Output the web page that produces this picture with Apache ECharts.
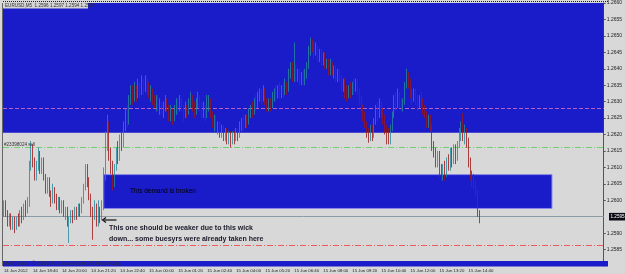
<!DOCTYPE html>
<html><head><meta charset="utf-8">
<script src="https://cdn.jsdelivr.net/npm/echarts@6/dist/echarts.min.js"></script>
<style>html,body{margin:0;padding:0;background:#d8d8d8}#c{width:625px;height:274px}</style>
</head><body><div id="c"></div>
<script>
// OHLC rows: [open, close, low, high], EURUSD M5 from 14 Jun 17:20
const candles = [
[1.2597,1.2599,1.2595,1.2600],[1.2599,1.2596,1.2595,1.2600],[1.2596,1.2594,1.2592,1.2597],[1.2594,1.2595,1.2592,1.2596],
[1.2595,1.2593,1.2591,1.2596],[1.2593,1.2594,1.2591,1.2595],[1.2594,1.2592,1.2590,1.2595],[1.2592,1.2594,1.2591,1.2595],
[1.2594,1.2593,1.2592,1.2596],[1.2593,1.2596,1.2592,1.2597],[1.2596,1.2595,1.2593,1.2598],[1.2595,1.2598,1.2594,1.2599],
[1.2598,1.2597,1.2595,1.2600],[1.2597,1.2599,1.2596,1.2601],[1.2599,1.2610,1.2598,1.2612],[1.2610,1.2616,1.2609,1.2618],
[1.2616,1.2612,1.2610,1.2617],[1.2612,1.2608,1.2606,1.2613],[1.2608,1.2611,1.2606,1.2612],[1.2611,1.2614,1.2609,1.2616],
[1.2614,1.2610,1.2608,1.2615],[1.2610,1.2612,1.2608,1.2613],[1.2612,1.2607,1.2606,1.2613],[1.2607,1.2604,1.2602,1.2608],
[1.2604,1.2606,1.2602,1.2607],[1.2606,1.2602,1.2601,1.2607],[1.2602,1.2600,1.2598,1.2603],[1.2600,1.2603,1.2599,1.2605],
[1.2603,1.2601,1.2599,1.2604],[1.2601,1.2599,1.2597,1.2602],[1.2599,1.2600,1.2597,1.2601],[1.2600,1.2598,1.2596,1.2601],
[1.2598,1.2599,1.2596,1.2600],[1.2599,1.2596,1.2595,1.2600],[1.2596,1.2597,1.2594,1.2598],[1.2597,1.2593,1.2592,1.2598],
[1.2593,1.2594,1.2587,1.2595],[1.2594,1.2596,1.2593,1.2597],[1.2596,1.2595,1.2593,1.2597],[1.2595,1.2597,1.2594,1.2598],
[1.2597,1.2596,1.2594,1.2598],[1.2596,1.2598,1.2595,1.2599],[1.2598,1.2597,1.2595,1.2599],[1.2597,1.2600,1.2596,1.2601],
[1.2600,1.2604,1.2599,1.2605],[1.2604,1.2609,1.2603,1.2611],[1.2609,1.2606,1.2604,1.2611],[1.2606,1.2601,1.2600,1.2607],
[1.2601,1.2597,1.2595,1.2602],[1.2597,1.2595,1.2588,1.2598],[1.2595,1.2598,1.2594,1.2600],[1.2598,1.2594,1.2592,1.2599],
[1.2594,1.2597,1.2592,1.2600],[1.2597,1.2595,1.2593,1.2598],[1.2595,1.2598,1.2594,1.2600],[1.2598,1.2608,1.2597,1.2610],
[1.2608,1.2618,1.2606,1.2621],[1.2618,1.2622,1.2615,1.2626],[1.2622,1.2614,1.2612,1.2624],[1.2614,1.2610,1.2608,1.2616],
[1.2610,1.2606,1.2603,1.2612],[1.2606,1.2610,1.2604,1.2611],[1.2610,1.2615,1.2609,1.2616],[1.2615,1.2613,1.2611,1.2618],
[1.2613,1.2619,1.2612,1.2620],[1.2619,1.2617,1.2615,1.2621],[1.2617,1.2623,1.2616,1.2624],[1.2623,1.2626,1.2621,1.2628],
[1.2626,1.2624,1.2622,1.2629],[1.2624,1.2630,1.2623,1.2632],[1.2630,1.2633,1.2629,1.2635],[1.2633,1.2631,1.2629,1.2635],
[1.2631,1.2634,1.2630,1.2636],[1.2634,1.2632,1.2630,1.2635],[1.2632,1.2634,1.2631,1.2637],[1.2634,1.2633,1.2631,1.2636],
[1.2633,1.2635,1.2632,1.2638],[1.2635,1.2634,1.2632,1.2637],[1.2634,1.2636,1.2633,1.2638],[1.2636,1.2634,1.2632,1.2637],
[1.2634,1.2632,1.2631,1.2636],[1.2632,1.2633,1.2630,1.2635],[1.2633,1.2631,1.2629,1.2634],[1.2631,1.2629,1.2628,1.2632],
[1.2629,1.2631,1.2627,1.2632],[1.2631,1.2628,1.2627,1.2632],[1.2628,1.2629,1.2626,1.2631],[1.2629,1.2627,1.2626,1.2630],
[1.2627,1.2629,1.2625,1.2630],[1.2629,1.2630,1.2627,1.2632],[1.2630,1.2628,1.2627,1.2631],[1.2628,1.2626,1.2624,1.2629],
[1.2626,1.2627,1.2624,1.2629],[1.2627,1.2625,1.2623,1.2628],[1.2625,1.2627,1.2624,1.2629],[1.2627,1.2629,1.2626,1.2631],
[1.2629,1.2628,1.2626,1.2631],[1.2628,1.2630,1.2627,1.2632],[1.2630,1.2628,1.2627,1.2631],[1.2628,1.2626,1.2624,1.2629],
[1.2626,1.2628,1.2625,1.2630],[1.2628,1.2627,1.2625,1.2629],[1.2627,1.2629,1.2626,1.2631],[1.2629,1.2631,1.2628,1.2633],
[1.2631,1.2629,1.2627,1.2632],[1.2629,1.2627,1.2625,1.2630],[1.2627,1.2629,1.2626,1.2631],[1.2629,1.2631,1.2628,1.2633],
[1.2631,1.2629,1.2627,1.2632],[1.2629,1.2627,1.2625,1.2630],[1.2627,1.2628,1.2625,1.2630],[1.2628,1.2626,1.2624,1.2629],
[1.2626,1.2628,1.2625,1.2632],[1.2628,1.2630,1.2627,1.2632],[1.2630,1.2626,1.2625,1.2631],[1.2626,1.2624,1.2622,1.2627],
[1.2624,1.2625,1.2621,1.2626],[1.2625,1.2622,1.2621,1.2626],[1.2622,1.2623,1.2620,1.2624],[1.2623,1.2621,1.2619,1.2624],
[1.2621,1.2622,1.2619,1.2623],[1.2622,1.2620,1.2618,1.2623],[1.2620,1.2621,1.2618,1.2622],[1.2621,1.2619,1.2617,1.2622],
[1.2619,1.2620,1.2617,1.2621],[1.2620,1.2618,1.2616,1.2621],[1.2618,1.2620,1.2617,1.2621],[1.2620,1.2619,1.2617,1.2621],
[1.2619,1.2621,1.2618,1.2622],[1.2621,1.2620,1.2618,1.2622],[1.2620,1.2622,1.2619,1.2624],[1.2622,1.2624,1.2621,1.2625],
[1.2624,1.2623,1.2621,1.2626],[1.2623,1.2625,1.2622,1.2626],[1.2625,1.2624,1.2622,1.2626],[1.2624,1.2626,1.2623,1.2628],
[1.2626,1.2628,1.2625,1.2629],[1.2628,1.2627,1.2625,1.2630],[1.2627,1.2630,1.2626,1.2631],[1.2630,1.2629,1.2627,1.2632],
[1.2629,1.2631,1.2628,1.2633],[1.2631,1.2633,1.2630,1.2634],[1.2633,1.2631,1.2629,1.2634],[1.2631,1.2633,1.2630,1.2635],
[1.2633,1.2630,1.2629,1.2634],[1.2630,1.2628,1.2627,1.2631],[1.2628,1.2630,1.2627,1.2631],[1.2630,1.2629,1.2627,1.2631],
[1.2629,1.2631,1.2628,1.2633],[1.2631,1.2633,1.2630,1.2634],[1.2633,1.2632,1.2630,1.2635],[1.2632,1.2634,1.2631,1.2635],
[1.2634,1.2632,1.2631,1.2636],[1.2632,1.2634,1.2631,1.2635],[1.2634,1.2633,1.2631,1.2636],[1.2633,1.2635,1.2632,1.2637],
[1.2635,1.2634,1.2632,1.2636],[1.2634,1.2639,1.2633,1.2640],[1.2639,1.2641,1.2637,1.2642],[1.2641,1.2638,1.2636,1.2642],
[1.2638,1.2640,1.2636,1.2648],[1.2640,1.2637,1.2636,1.2641],[1.2637,1.2639,1.2636,1.2640],[1.2639,1.2637,1.2635,1.2640],
[1.2637,1.2638,1.2635,1.2639],[1.2638,1.2636,1.2635,1.2640],[1.2636,1.2639,1.2635,1.2640],[1.2639,1.2641,1.2637,1.2642],
[1.2641,1.2646,1.2640,1.2647],[1.2646,1.2648,1.2644,1.26495],[1.2648,1.2647,1.2645,1.2649],[1.2647,1.2645,1.2643,1.2648],
[1.2645,1.2646,1.2644,1.2648],[1.2646,1.2644,1.2642,1.2647],[1.2644,1.2645,1.2642,1.2646],[1.2645,1.2643,1.2641,1.2646],
[1.2643,1.2644,1.2641,1.2645],[1.2644,1.2641,1.2640,1.2645],[1.2641,1.2642,1.2640,1.2643],[1.2642,1.2640,1.2638,1.2643],
[1.2640,1.2641,1.2638,1.2643],[1.2641,1.2639,1.2638,1.2642],[1.2639,1.2640,1.2637,1.2641],[1.2640,1.2638,1.2636,1.2641],
[1.2638,1.2639,1.2636,1.2640],[1.2639,1.2637,1.2636,1.2640],[1.2637,1.2635,1.2633,1.2638],[1.2635,1.2636,1.2633,1.2637],
[1.2636,1.2634,1.2631,1.2637],[1.2634,1.2632,1.2630,1.2635],[1.2632,1.2634,1.2631,1.2635],[1.2634,1.2633,1.2631,1.2636],
[1.2633,1.2635,1.2632,1.2636],[1.2635,1.2634,1.2632,1.2637],[1.2634,1.2636,1.2633,1.2637],[1.2636,1.2633,1.2632,1.2637],
[1.2633,1.2631,1.2629,1.2634],[1.2631,1.2628,1.2627,1.2632],[1.2628,1.2626,1.2624,1.2629],[1.2626,1.2623,1.2622,1.2627],
[1.2623,1.2621,1.2619,1.2624],[1.2621,1.2619,1.26175,1.2622],[1.2619,1.2622,1.2618,1.2623],[1.2622,1.2620,1.2618,1.2623],
[1.2620,1.2624,1.2619,1.2625],[1.2624,1.2628,1.2623,1.2629],[1.2628,1.2626,1.2624,1.2630],[1.2626,1.2629,1.2625,1.2631],
[1.2629,1.2627,1.2625,1.2630],[1.2627,1.2625,1.2623,1.2628],[1.2625,1.2622,1.2620,1.2626],[1.2622,1.2620,1.2617,1.2623],
[1.2620,1.2618,1.2617,1.2622],[1.2618,1.2622,1.2617,1.2623],[1.2622,1.2626,1.2621,1.2627],[1.2626,1.2631,1.2625,1.2632],
[1.2631,1.2629,1.2627,1.2633],[1.2629,1.2632,1.2628,1.2634],[1.2632,1.2630,1.2628,1.2633],[1.2630,1.2628,1.2627,1.2631],
[1.2628,1.2630,1.2627,1.2631],[1.2630,1.2635,1.2629,1.2636],[1.2635,1.2638,1.2634,1.2640],[1.2638,1.2636,1.2634,1.2639],
[1.2636,1.2633,1.2631,1.2637],[1.2633,1.2631,1.2629,1.2634],[1.2631,1.2633,1.2630,1.2634],[1.2633,1.2631,1.2629,1.2634],
[1.2631,1.2629,1.2627,1.2632],[1.2629,1.2631,1.2628,1.2632],[1.2631,1.2630,1.2628,1.2633],[1.2630,1.2628,1.2626,1.2631],
[1.2628,1.2626,1.2625,1.2629],[1.2626,1.2624,1.2622,1.2627],[1.2624,1.2625,1.2622,1.2626],[1.2625,1.2622,1.2621,1.2626],
[1.2622,1.2617,1.2615,1.2623],[1.2617,1.2615,1.2613,1.2618],[1.2615,1.2612,1.2610,1.2616],[1.2612,1.2614,1.2610,1.2615],
[1.2614,1.2609,1.2607,1.2615],[1.2609,1.2607,1.26055,1.2611],[1.2607,1.2610,1.2606,1.2611],[1.2610,1.2608,1.2606,1.2612],
[1.2608,1.2612,1.2607,1.2613],[1.2612,1.2610,1.2609,1.2614],[1.2610,1.2614,1.2609,1.2616],[1.2614,1.2612,1.2610,1.2616],
[1.2612,1.2615,1.2611,1.2617],[1.2615,1.2613,1.2611,1.2617],[1.2613,1.2617,1.2612,1.2618],[1.2617,1.2620,1.2616,1.2622],
[1.2620,1.2622,1.2618,1.2624],[1.2622,1.2619,1.2618,1.26265],[1.2619,1.2621,1.2617,1.2623],[1.2621,1.2618,1.2616,1.2622],
[1.2618,1.2612,1.2610,1.2619],[1.2612,1.2608,1.2606,1.2613],[1.2608,1.2606,1.2604,1.2609],[1.2606,1.2605,1.26035,1.2608],
[1.2605,1.2602,1.2601,1.2606],[1.2602,1.2596,1.2595,1.2603],[1.2596,1.2595,1.2593,1.2597]
];
const totalSlots = 331;            // bars + empty space to the right (chart shift)
const tickLabels = ["14 Jun 2012","14 Jun 18:40","14 Jun 20:00","14 Jun 21:20","14 Jun 22:40","15 Jun 00:00",
  "15 Jun 01:20","15 Jun 02:40","15 Jun 04:00","15 Jun 05:20","15 Jun 06:40","15 Jun 08:00","15 Jun 09:20",
  "15 Jun 10:40","15 Jun 12:00","15 Jun 13:20","15 Jun 14:40"];
const labelEvery = 16;
const priceTicks = [1.2585,1.2590,1.2600,1.2605,1.2610,1.2615,1.2620,1.2625,1.2630,1.2635,1.2640,1.2645,1.2650,1.2655,1.2660];
const supplyZone = [1.26205, 1.2660];
const demandZone = [1.25975, 1.26078];
const demandBars = [55, 302];
const purpleLevel = 1.26281;
const greenLevel = 1.2616;
const bidLevel = 1.2595;
const redLevel = 1.25862;
const titleText = "EURUSD,M5  1.2596 1.2597 1.2594 1.2595";

const BLUE = '#1a1bc9';
const cats = [];
for (let i = 0; i < totalSlots; i++) cats.push(String(i));

const chart = echarts.init(document.getElementById('c'), null, {renderer:'canvas'});
const FONT = 'Liberation Sans, Arial, sans-serif';
chart.setOption({
  animation:false,
  backgroundColor:'#d8d8d8',
  grid:{left:3, right:17, top:3, bottom:8, show:false},
  xAxis:{type:'category', data:cats, boundaryGap:true,
    axisLine:{show:false}, axisTick:{show:false}, splitLine:{show:false},
    axisLabel:{interval:(i)=> i % labelEvery === 0 && i/labelEvery < tickLabels.length,
      formatter:(v,i)=> tickLabels[i/labelEvery] || '', fontSize:4.3, color:'#222', align:'left', margin:3, fontFamily:FONT, hideOverlap:false}},
  yAxis:{type:'value', position:'right', min:1.2580, max:1.2660, splitLine:{show:false},
    axisLine:{show:true, lineStyle:{color:'#555', width:1}},
    axisTick:{show:true, length:2, customValues:priceTicks, lineStyle:{color:'#555'}},
    axisLabel:{customValues:priceTicks, formatter:(v)=>v.toFixed(4), fontSize:5, color:'#222', margin:3, fontFamily:FONT}},
  series:[
    {type:'line', data:[], silent:true, z:1,
      markArea:{silent:true, data:[
        [{yAxis:supplyZone[0], itemStyle:{color:BLUE}}, {yAxis:supplyZone[1]}],
        [{xAxis:cats[demandBars[0]], yAxis:demandZone[1], itemStyle:{color:BLUE, borderColor:'#8a8ae6', borderWidth:1}},
         {xAxis:cats[demandBars[1]], yAxis:demandZone[0]}]
      ]}},
    {type:'candlestick', data:candles, z:3, barWidth:1.3,
      itemStyle:{color:'#238a9c', color0:'#9e1616', borderColor:'#238a9c', borderColor0:'#9e1616', borderWidth:0.8},
      markLine:{silent:true, symbol:['none','none'], label:{show:false}, precision:6, z:2, data:[
        {name:'p', yAxis:purpleLevel, lineStyle:{color:'#b862c8', type:[4,2], width:1, opacity:1}},
        {name:'g', yAxis:greenLevel, lineStyle:{color:'#6fd06f', type:[6,2,1,2], width:1, opacity:1}},
        {name:'b', yAxis:bidLevel, lineStyle:{color:'#8c9ca6', type:'solid', width:1, opacity:1}},
        {name:'r', yAxis:redLevel, lineStyle:{color:'#f05a5a', type:[6,2,1,2], width:1, opacity:1}}
      ]}}
  ]
});

const bidY = chart.convertToPixel({yAxisIndex:0}, bidLevel);
chart.setOption({graphic:[
  {type:'line', shape:{x1:2.5,y1:3,x2:2.5,y2:266}, style:{stroke:'#666', lineWidth:1}, z:50},
  {type:'line', shape:{x1:3,y1:1.5,x2:608,y2:1.5}, style:{stroke:'#222', lineWidth:1, lineDash:[1,1]}, z:50},
  {type:'rect', shape:{x:3,y:2.5,width:85,height:6}, style:{fill:'#d4d4d4'}, z:50},
  {type:'text', x:5, y:5.5, style:{text:titleText, fill:'#333', font:'4.6px '+FONT, verticalAlign:'middle'}, z:51},
  {type:'rect', shape:{x:3,y:261,width:605,height:5.5}, style:{fill:BLUE}, z:50},
  {type:'text', x:3, y:263.8, style:{text:'MetaTrader - \u00a9 2001-2012, MetaQuotes Software Corp.', font:'4.8px '+FONT, fill:'#333', verticalAlign:'middle'}, z:51},
  {type:'rect', shape:{x:609,y:bidY-3.8,width:16,height:7.6}, style:{fill:'#0a0a14'}, z:50},
  {type:'text', x:610.5, y:bidY, style:{text:bidLevel.toFixed(4), font:'4.6px '+FONT, fill:'#fff', verticalAlign:'middle'}, z:51},
  {type:'text', x:4, y:144.5, style:{text:'#23398024 sell', font:'4.6px '+FONT, fill:'#333', verticalAlign:'middle'}, z:51},
  {type:'text', x:163, y:191, style:{text:'This demand is broken', font:'6.5px '+FONT, fill:'#000', align:'center', verticalAlign:'middle'}, z:51},
  {type:'text', x:109, y:228.5, style:{text:'This one should be weaker due to this wick', font:'bold 7px '+FONT, fill:'#1a1a2a', verticalAlign:'middle'}, z:51},
  {type:'text', x:109, y:239.5, style:{text:'down... some buesyrs were already taken here', font:'bold 7px '+FONT, fill:'#1a1a2a', verticalAlign:'middle'}, z:51},
  {type:'line', shape:{x1:104,y1:220,x2:116.5,y2:220}, style:{stroke:'#111', lineWidth:1.2}, z:51},
  {type:'polyline', shape:{points:[[106,217.5],[102.5,220],[106,222.5]]}, style:{stroke:'#111', lineWidth:1.2, fill:null}, z:51}
]});
</script></body></html>
